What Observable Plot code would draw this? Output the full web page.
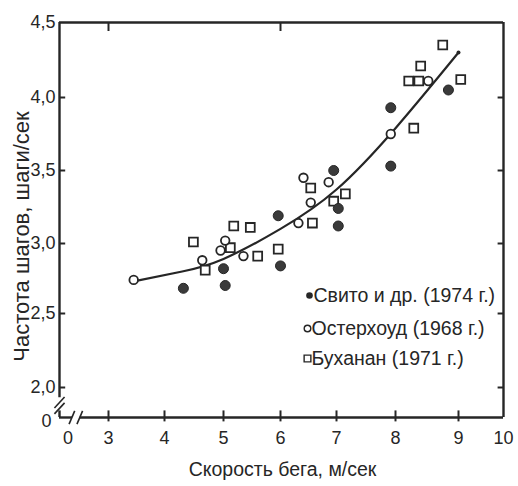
<!DOCTYPE html>
<html><head><meta charset="utf-8">
<script src="https://cdn.jsdelivr.net/npm/d3@7"></script>
<script src="https://cdn.jsdelivr.net/npm/@observablehq/plot@0.6"></script>
<style>body{margin:0;background:#fff;} svg{display:block;}</style>
</head><body><div id="chart"></div>
<script>
// ---- data ----
const seriesNames = ["Свито и др. (1974 г.)", "Остерхоуд (1968 г.)", "Буханан (1971 г.)"];
const svitoX = [4.32, 5.03, 5.00, 5.96, 6.00, 6.95, 7.03, 7.03, 7.92, 7.92, 8.84];
const svitoY = [2.68, 2.70, 2.82, 3.19, 2.84, 3.50, 3.24, 3.12, 3.93, 3.53, 4.05];
const osterX = [3.45, 4.64, 5.03, 4.95, 5.35, 6.41, 6.54, 6.32, 6.86, 7.92, 8.52];
const osterY = [2.74, 2.88, 3.02, 2.95, 2.91, 3.45, 3.28, 3.14, 3.42, 3.75, 4.11];
const buchX = [4.49, 4.69, 5.18, 5.47, 5.12, 5.60, 5.96, 6.54, 6.57, 6.95, 7.15, 8.29, 8.21, 8.37, 8.40, 8.75, 9.05];
const buchY = [3.01, 2.81, 3.12, 3.11, 2.97, 2.91, 2.96, 3.38, 3.14, 3.29, 3.34, 3.79, 4.11, 4.11, 4.21, 4.35, 4.12];
const curveX = [3.45, 4.30, 5.00, 6.00, 7.00, 8.00, 9.00];
const curveY = [2.73, 2.80, 2.89, 3.10, 3.37, 3.79, 4.30];
const xTickValues = [3, 4, 5, 6, 7, 8, 9, 10];
const xTickLabels = ["3", "4", "5", "6", "7", "8", "9", "10"];
const xTopTicks = [3, 6];
const yTickValues = [2.0, 2.5, 3.0, 3.5, 4.0, 4.5];
const yTickLabels = ["2,0", "2,5", "3,0", "3,5", "4,0", "4,5"];
const xZeroLabel = "0";
const yZeroLabel = "0";
const xTitle = "Скорость бега, м/сек";
const yTitle = "Частота шагов, шаги/сек";

// ---- layout / style ----
const ink = "#262626";
const font = "'Liberation Sans', Arial, Helvetica, sans-serif";
const xMin = 2.13, xMax = 10, yMin = 1.795, yMax = 4.5;
const rows = (xs, ys) => xs.map((x, i) => ({x, y: ys[i]}));
const svito = rows(svitoX, svitoY);
const oster = rows(osterX, osterY);
const buch = rows(buchX, buchY);
const curve = rows(curveX, curveY);

// the hand-drawn axes are slightly uneven: piecewise-linear warp of the data
const xWarp = d3.scaleLinear().domain([xMin, 3, 4, 5, 6, 7, 8, 9, 10]).range([59, 108, 164, 223, 280, 336, 395, 458, 503]);
const yWarp = d3.scaleLinear().domain([yMin, 2, 2.5, 3, 3.5, 4, 4.5]).range([417, 387, 313, 243, 170, 97, 22]);

const legendDy = [295, 328, 358];
const legendX = 309;
const fs = 18;

const chart = Plot.plot({
  width: 518, height: 486,
  marginLeft: 0, marginRight: 0, marginTop: 0, marginBottom: 0,
  style: {fontFamily: font, background: "#fff", color: ink},
  x: {transform: xWarp, domain: [0, 518], range: [0, 518], axis: null},
  y: {transform: yWarp, domain: [0, 486], range: [0, 486], axis: null},
  marks: [
    // frame
    Plot.ruleY([yMax], {x1: xMin, x2: xMax, stroke: ink, strokeWidth: 2.4}),
    Plot.ruleX([xMax], {y1: yMin, y2: yMax, stroke: ink, strokeWidth: 2.4}),
    Plot.ruleX([xMin], {y1: 1.93, y2: yMax, stroke: ink, strokeWidth: 2.4}),
    Plot.ruleX([xMin], {y1: yMin, y2: 1.84, stroke: ink, strokeWidth: 2.4}),
    Plot.ruleY([yMin], {x1: xMin, x2: 2.36, stroke: ink, strokeWidth: 2.4}),
    Plot.ruleY([yMin], {x1: 2.5, x2: xMax, stroke: ink, strokeWidth: 2.4}),
    // axis breaks
    Plot.link([{a: 2.04, b: 1.86, c: 2.22, d: 1.935}, {a: 2.04, b: 1.82, c: 2.22, d: 1.895}],
      {x1: "a", y1: "b", x2: "c", y2: "d", stroke: ink, strokeWidth: 1.6}),
    Plot.link([{a: 2.30, b: 1.75, c: 2.40, d: 1.84}, {a: 2.44, b: 1.75, c: 2.54, d: 1.84}],
      {x1: "a", y1: "b", x2: "c", y2: "d", stroke: ink, strokeWidth: 1.6}),
    // ticks
    Plot.ruleY(yTickValues.slice(0, 5), {x1: xMin, x2: xMin + 0.11, stroke: ink, strokeWidth: 2}),
    Plot.ruleY(yTickValues.slice(0, 5), {x1: 9.88, x2: xMax, stroke: ink, strokeWidth: 2}),
    Plot.ruleX(xTickValues.slice(0, 7), {y1: 1.765, y2: 1.84, stroke: ink, strokeWidth: 2}),
    Plot.ruleX(xTopTicks, {y1: 4.44, y2: yMax, stroke: ink, strokeWidth: 2}),
    // tick labels
    Plot.text(yTickValues, {x: xMin, y: d => d, text: (d, i) => yTickLabels[i], textAnchor: "end", dx: -4, fontSize: fs, fill: ink}),
    Plot.text([yZeroLabel], {x: xMin, y: yMin, textAnchor: "end", dx: -8, dy: 4, fontSize: fs, fill: ink}),
    Plot.text(xTickValues, {x: d => d, y: yMin, text: (d, i) => xTickLabels[i], dy: 21, fontSize: fs, fill: ink}),
    Plot.text([xZeroLabel], {x: 2.28, y: yMin, dy: 21, fontSize: fs, fill: ink}),
    // titles
    Plot.text([xTitle], {frameAnchor: "bottom", textAnchor: "middle", lineAnchor: "middle", dx: 23, dy: -17, fontSize: 19.5, fill: ink}),
    Plot.text([yTitle], {frameAnchor: "left", textAnchor: "middle", lineAnchor: "middle", dx: 21, dy: -7, rotate: -90, fontSize: 22, fill: ink}),
    // fitted curve
    Plot.line(curve, {x: "x", y: "y", curve: "natural", stroke: ink, strokeWidth: 2.2}),
    Plot.dot([curve[curve.length - 1]], {x: "x", y: "y", r: 2, fill: ink}),
    // points
    Plot.dot(buch, {x: "x", y: "y", symbol: "square", r: 5, stroke: ink, strokeWidth: 1.8, fill: "#fff"}),
    Plot.dot(oster, {x: "x", y: "y", symbol: "circle", r: 4.3, stroke: ink, strokeWidth: 1.8, fill: "#fff"}),
    Plot.dot(svito, {x: "x", y: "y", symbol: "circle", r: 5, fill: "#3a3a3a", stroke: ink, strokeWidth: 1}),
    // legend
    Plot.dot([0], {frameAnchor: "top-left", dx: legendX, dy: legendDy[0], r: 3.3, fill: ink}),
    Plot.dot([0], {frameAnchor: "top-left", dx: legendX - 2, dy: legendDy[1], r: 3.3, stroke: ink, strokeWidth: 1.4, fill: "#fff"}),
    Plot.dot([0], {frameAnchor: "top-left", dx: legendX - 2, dy: legendDy[2], symbol: "square", r: 3.8, stroke: ink, strokeWidth: 1.4, fill: "#fff"}),
    Plot.text([seriesNames[0]], {frameAnchor: "top-left", dx: legendX + 4, dy: legendDy[0], textAnchor: "start", lineAnchor: "middle", fontSize: 19.5, fill: ink}),
    Plot.text([seriesNames[1]], {frameAnchor: "top-left", dx: legendX + 2, dy: legendDy[1], textAnchor: "start", lineAnchor: "middle", fontSize: 19.5, fill: ink}),
    Plot.text([seriesNames[2]], {frameAnchor: "top-left", dx: legendX + 2, dy: legendDy[2], textAnchor: "start", lineAnchor: "middle", fontSize: 19.5, fill: ink})
  ]
});
document.getElementById("chart").appendChild(chart);
</script>
</body></html>
